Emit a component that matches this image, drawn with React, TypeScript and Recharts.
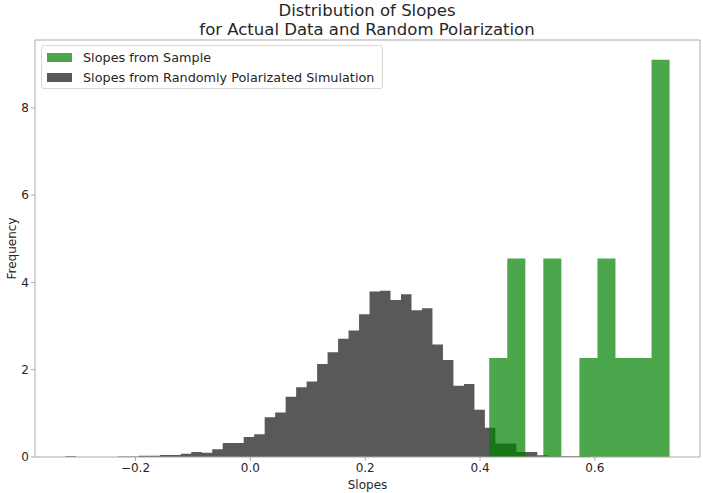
import React from "react";
import {
  Area,
  ComposedChart,
  ReferenceLine,
  XAxis,
  YAxis,
} from "recharts";

// bin layout
const grayStart = -0.322;
const grayWidth = 0.01826;
const greenStart = 0.416;
const greenWidth = 0.0314;

// density per bin, randomly polarized simulation (50 bins)
const grayDensity = [
  0.02, 0, 0, 0, 0, 0.014, 0.014, 0.027, 0.027, 0.045,
  0.045, 0.076, 0.115, 0.1, 0.176, 0.32, 0.32, 0.46, 0.52, 0.91,
  1.02, 1.38, 1.6, 1.73, 2.13, 2.4, 2.71, 2.9, 3.27, 3.79,
  3.81, 3.6, 3.73, 3.36, 3.41, 2.58, 2.22, 1.63, 1.67, 1.08,
  0.67, 0.31, 0.31, 0.115, 0.115, 0.04, 0.015, 0.015, 0.015, 0.015,
];

// density per bin, sample (10 bins)
const greenDensity = [2.27, 4.55, 0, 4.55, 0, 2.27, 4.55, 2.27, 2.27, 9.1];

const xTicks = [-0.2, 0, 0.2, 0.4, 0.6];
const yTicks = [0, 2, 4, 6, 8];
const xDomain: [number, number] = [-0.375, 0.783];
const yDomain: [number, number] = [0, 9.555];

const valueAt = (x: number, start: number, w: number, vals: number[]) => {
  const i = Math.floor((x - start) / w + 1e-9);
  if (i < 0 || i >= vals.length) return 0;
  return vals[i];
};

const edges: number[] = [];
grayDensity.forEach((_, i) => edges.push(grayStart + i * grayWidth));
edges.push(grayStart + grayDensity.length * grayWidth);
greenDensity.forEach((_, i) => edges.push(greenStart + i * greenWidth));
edges.push(greenStart + greenDensity.length * greenWidth);
edges.sort((a, b) => a - b);

const data = edges.map((x) => ({
  x,
  sim: valueAt(x, grayStart, grayWidth, grayDensity),
  sample: valueAt(x, greenStart, greenWidth, greenDensity),
}));

const font = "DejaVu Sans, sans-serif";
const spine = "#aaa";
const fmtX = (v: number) => v.toFixed(1).replace("-", "\u2212");

function LegendBox() {
  const items = [
    { label: "Slopes from Sample", color: "rgba(0,128,0,0.7)" },
    { label: "Slopes from Randomly Polarizated Simulation", color: "rgba(0,0,0,0.65)" },
  ];
  return (
    <div
      style={{
        position: "absolute",
        left: 41,
        top: 45,
        border: "1px solid #d8d8d8",
        borderRadius: 3,
        background: "rgba(255,255,255,0.8)",
        padding: "1px 8px 1px 5px",
        fontFamily: font,
        fontSize: 12.8,
        color: "#262626",
      }}
    >
      {items.map((it) => (
        <div key={it.label} style={{ display: "flex", alignItems: "center", height: 20 }}>
          <span style={{ width: 25, height: 9, background: it.color, marginRight: 11 }} />
          {it.label}
        </div>
      ))}
    </div>
  );
}

export default function App() {
  return (
    <div style={{ position: "absolute", left: 0, top: 0, width: 703, height: 493, background: "#fff" }}>
      <svg width={703} height={40} style={{ position: "absolute", left: 0, top: 0 }}>
        <text x={367} y={16} textAnchor="middle" fontFamily={font} fontSize={16.5} fill="#262626">
          Distribution of Slopes
        </text>
        <text x={367} y={35} textAnchor="middle" fontFamily={font} fontSize={16.5} fill="#262626">
          for Actual Data and Random Polarization
        </text>
      </svg>
      <div style={{ position: "absolute", left: 0, top: 0 }}>
        <ComposedChart
          width={703}
          height={493}
          data={data}
          margin={{ top: 40, right: 3, bottom: 0, left: 0 }}
        >
          <XAxis
            dataKey="x"
            type="number"
            domain={xDomain}
            ticks={xTicks}
            tickFormatter={fmtX}
            allowDataOverflow
            height={36}
            stroke={spine}
            tick={{ fill: "#262626", fontSize: 12, fontFamily: font }}
            tickSize={4}
            label={{ value: "Slopes", position: "insideBottom", offset: 4, fill: "#262626", fontSize: 12, fontFamily: font }}
          />
          <YAxis
            type="number"
            domain={yDomain}
            ticks={yTicks}
            allowDataOverflow
            width={35}
            stroke={spine}
            tick={{ fill: "#262626", fontSize: 12, fontFamily: font }}
            tickSize={4}
            label={{ value: "Frequency", angle: -90, position: "insideLeft", offset: 12, fill: "#262626", fontSize: 12, fontFamily: font, style: { textAnchor: "middle" } }}
          />
          <Area
            type="stepAfter"
            dataKey="sim"
            name="Slopes from Randomly Polarizated Simulation"
            fill="#000"
            fillOpacity={0.65}
            stroke="none"
            isAnimationActive={false}
          />
          <Area
            type="stepAfter"
            dataKey="sample"
            name="Slopes from Sample"
            fill="#008000"
            fillOpacity={0.7}
            stroke="none"
            isAnimationActive={false}
          />
          <ReferenceLine y={yDomain[1]} stroke={spine} ifOverflow="extendDomain" />
          <ReferenceLine x={xDomain[1]} stroke={spine} ifOverflow="extendDomain" />
        </ComposedChart>
      </div>
      <LegendBox />
    </div>
  );
}
